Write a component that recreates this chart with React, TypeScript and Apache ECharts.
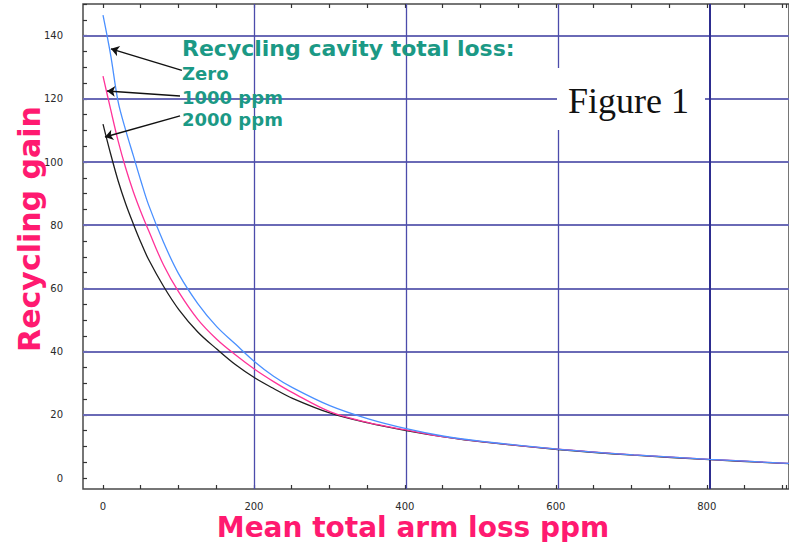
import React, { useEffect, useRef } from "react";
import * as echarts from "echarts";

// Mean total arm loss (ppm) sample positions
const armLoss = [0, 10, 20, 30, 40, 50, 60, 80, 100, 125, 150, 175, 200, 225, 250, 300, 350, 400, 450, 500, 600, 700, 800, 905];
// Recycling cavity total loss: Zero
const gainZero = [146.5, 134, 119, 110, 102, 94, 86.5, 74.5, 64.5, 55.2, 47.9, 42.3, 36.8, 32.2, 28.6, 22.8, 18.7, 15.6, 13.2, 11.6, 9.1, 7.3, 5.9, 4.6];
// 1000 ppm
const gain1000 = [127.2, 116.7, 106.6, 98, 90.6, 84.2, 78.4, 67.3, 58.8, 50.2, 43.9, 38.9, 34.4, 30.5, 27, 20.9, 17.5, 15.2, 13.0, 11.5, 9.1, 7.3, 5.9, 4.6];
// 2000 ppm
const gain2000 = [112, 102.6, 94, 86.7, 80.4, 74.5, 69.2, 60.6, 53.3, 46.2, 40.8, 35.8, 31.7, 28.3, 25.2, 20.5, 17.4, 15.0, 13.0, 11.4, 9.0, 7.2, 5.8, 4.5];

const xTickLabels = [0, 200, 400, 600, 800];
const yTickLabels = [0, 20, 40, 60, 80, 100, 120, 140];
const xGridValues = [200, 400, 600, 800];
const yGridValues = [20, 40, 60, 80, 100, 120, 140];

// annotation arrows: [fromX, fromY, toX, toY] in data units
const arrows = [
  [104, 129, 10.5, 135.8],
  [101.6, 120.9, 5.3, 122.5],
  [101.6, 114.6, 2.6, 107.9],
];

const legendTitle = "Recycling cavity total loss:";
const legendLabels = ["Zero", "1000 ppm", "2000 ppm"];

const pairs = (xs: number[], ys: number[]) => xs.map((x, i) => [x, ys[i]]);

export default function App() {
  const ref = useRef<HTMLDivElement>(null);
  useEffect(() => {
    if (!ref.current) return;
    const chart = echarts.init(ref.current, null, { renderer: "svg" });
    const teal = "#1b9985";
    const pink = "#ff1a70";
    const tickStyle = { show: true, inside: true, length: 4, lineStyle: { color: "#333", width: 1.2 } };
    const labelFont = { color: "#2a2a2a", fontFamily: "DejaVu Sans", fontSize: 10 };
    const option: any = {
      animation: false,
      backgroundColor: "#ffffff",
      grid: [
        { left: 83, right: 0, top: 4, bottom: 53, show: true, borderColor: "#4a4a4a", borderWidth: 1.5, backgroundColor: "transparent" },
        { left: 83, right: 0, top: 4, bottom: 64 },
        { left: 103, right: 0, top: 4, bottom: 53 },
      ],
      xAxis: [
        { type: "value", gridIndex: 0, min: -26.4, max: 905, show: false },
        { type: "value", gridIndex: 1, min: 0, max: 1, show: false },
        {
          type: "value", gridIndex: 2, min: 0, max: 905, interval: 50, position: "bottom",
          axisLine: { show: false },
          axisTick: tickStyle,
          splitLine: { show: false },
          axisLabel: {
            margin: 12, ...labelFont,
            formatter: (v: number) => (xTickLabels.includes(v) ? String(v) : ""),
          },
        },
        {
          type: "value", gridIndex: 2, min: 0, max: 905, interval: 50, position: "top",
          axisLine: { show: false },
          axisTick: tickStyle,
          splitLine: { show: false },
          axisLabel: { show: false },
        },
      ],
      yAxis: [
        { type: "value", gridIndex: 0, min: -3.5, max: 150, show: false },
        {
          type: "value", gridIndex: 1, min: 0, max: 150, interval: 5, position: "left",
          axisLine: { show: false },
          axisTick: tickStyle,
          splitLine: { show: false },
          axisLabel: {
            margin: 20, ...labelFont,
            formatter: (v: number) => (yTickLabels.includes(v) ? String(v) : ""),
          },
        },
        { type: "value", gridIndex: 2, min: 0, max: 1, show: false },
      ],
      series: [
        {
          name: "2000 ppm", type: "line", xAxisIndex: 0, yAxisIndex: 0,
          data: pairs(armLoss, gain2000), showSymbol: false, smooth: 0.35,
          lineStyle: { color: "#1e1e1e", width: 1.3 }, itemStyle: { color: "#1e1e1e" },
          markLine: {
            silent: true, symbol: "none", z: 1, label: { show: false },
            data: [
              ...yGridValues.map((v) => ({ yAxis: v, lineStyle: { color: "#6a6ab6", width: 2, type: "solid" } })),
              ...xGridValues.map((v) => ({
                xAxis: v,
                lineStyle: v === 800 ? { color: "#2d2d8f", width: 2, type: "solid" } : { color: "#4c4cab", width: 1.3, type: "solid" },
              })),
            ],
          },
        },
        {
          name: "1000 ppm", type: "line", xAxisIndex: 0, yAxisIndex: 0,
          data: pairs(armLoss, gain1000), showSymbol: false, smooth: 0.35,
          lineStyle: { color: "#ff3399", width: 1.3 }, itemStyle: { color: "#ff3399" },
          markLine: {
            silent: true, symbol: ["none", "arrow"], symbolSize: 8, label: { show: false },
            lineStyle: { color: "#111", width: 1.5, type: "solid" },
            data: arrows.map((a) => [{ coord: [a[0], a[1]] }, { coord: [a[2], a[3]] }]),
          },
        },
        {
          name: "Zero", type: "line", xAxisIndex: 0, yAxisIndex: 0,
          data: pairs(armLoss, gainZero), showSymbol: false, smooth: 0.35,
          lineStyle: { color: "#4a90ff", width: 1.3 }, itemStyle: { color: "#4a90ff" },
        },
      ],
      graphic: [
        {
          type: "rect", z: 10, shape: { x: 557, y: 68, width: 148, height: 62 },
          style: { fill: "#ffffff" },
        },
        {
          type: "text", z: 11, x: 568, y: 101,
          style: { text: "Figure 1", fill: "#111", font: "36px 'Liberation Serif'", verticalAlign: "middle", align: "left" },
        },
        {
          type: "text", z: 11, x: 182, y: 48,
          style: { text: legendTitle, fill: teal, font: "bold 22px 'DejaVu Sans'", verticalAlign: "middle", align: "left" },
        },
        ...legendLabels.map((t, i) => ({
          type: "text", z: 11, x: 182, y: [73, 97, 119][i],
          style: { text: t, fill: teal, font: "bold 18px 'DejaVu Sans'", verticalAlign: "middle", align: "left" },
        })),
        {
          type: "text", z: 11, x: 413, y: 527,
          style: { text: "Mean total arm loss ppm", fill: pink, font: "bold 28px 'DejaVu Sans'", verticalAlign: "middle", align: "center" },
        },
        {
          type: "text", z: 11, x: 29, y: 229, rotation: Math.PI / 2,
          style: { text: "Recycling gain", fill: pink, font: "bold 30px 'DejaVu Sans'", verticalAlign: "middle", align: "center" },
        },
      ],
    };
    chart.setOption(option);
    return () => chart.dispose();
  }, []);
  return <div ref={ref} style={{ position: "fixed", left: 0, top: 0, width: 789, height: 542 }} />;
}
